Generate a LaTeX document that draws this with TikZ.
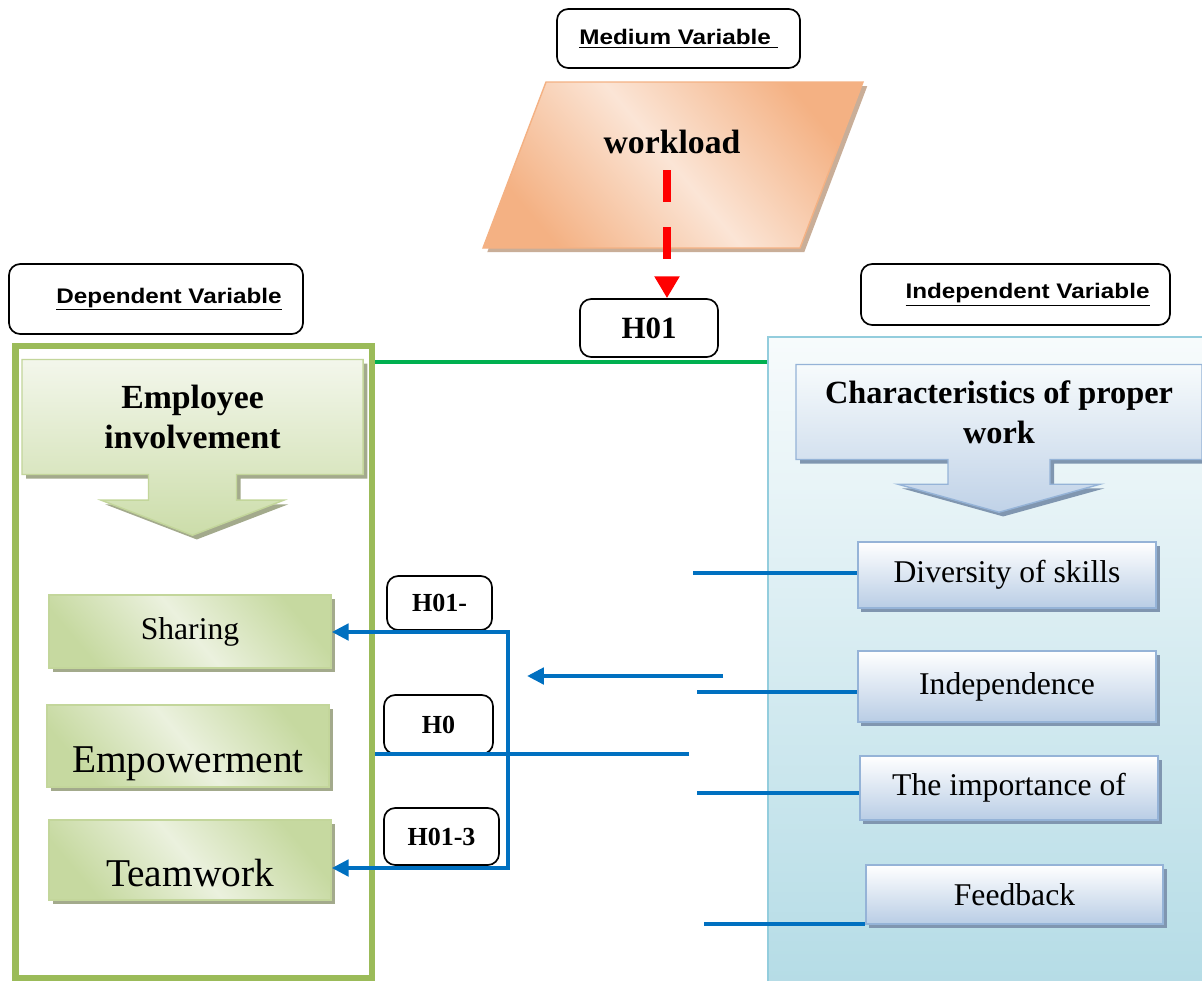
\documentclass[tikz,border=0pt]{standalone}
\usepackage{fontspec}
\setmainfont{Liberation Serif}
\newfontfamily\varfont[FakeStretch=1.15]{Liberation Sans}
\usetikzlibrary{arrows.meta,shapes.arrows,shadows}

\definecolor{peachdark}{HTML}{F4B183}
\definecolor{peachlight}{HTML}{FBE5D6}
\definecolor{peachshadow}{HTML}{C9AE98}
\definecolor{panelgreen}{HTML}{9BBB59}
\definecolor{linegreen}{HTML}{00B050}
\definecolor{greenA}{HTML}{C6D9A0}
\definecolor{greenB}{HTML}{EBF1DE}
\definecolor{greenborder}{HTML}{C3D69B}
\definecolor{greenshadow}{HTML}{A3AA8C}
\definecolor{lineblue}{HTML}{0070C0}
\definecolor{panelborder}{HTML}{93CDDD}
\definecolor{paneltop}{HTML}{F7FBFC}
\definecolor{panelbottom}{HTML}{B5DCE6}
\definecolor{boxborder}{HTML}{95B3D7}
\definecolor{boxbottom}{HTML}{B9CDE5}
\definecolor{boxshadow}{HTML}{8096B0}
\definecolor{redarrow}{HTML}{FF0000}

\tikzset{
  varbox/.style={draw=black, line width=1.2pt, rounded corners=8pt, fill=white,
    font=\varfont\bfseries\fontsize{15}{17}\selectfont},
  hbox/.style={draw=black, line width=1.2pt, rounded corners=8pt, fill=white,
    font=\bfseries\fontsize{18.5}{20}\selectfont},
  greenbox/.style={draw=greenborder, line width=1pt, top color=greenA, bottom color=greenA,
    middle color=greenB, shading angle=-50,
    drop shadow={shadow xshift=3pt, shadow yshift=-3pt, fill=greenshadow, opacity=1},
    font=\fontsize{22.5}{26}\selectfont},
  bluebox/.style={draw=boxborder, line width=1.2pt, top color=white, bottom color=boxbottom,
    drop shadow={shadow xshift=2.5pt, shadow yshift=-2.5pt, fill=boxshadow, opacity=1},
    font=\fontsize{22.5}{26}\selectfont},
  greenhead/.style={arrow box, draw=greenborder, line width=1pt, top color=greenB!60!white,
    bottom color=greenA!90!white, align=center,
    drop shadow={shadow xshift=3pt, shadow yshift=-3pt, fill=greenshadow, opacity=1},
    font=\bfseries\fontsize{24}{28.5}\selectfont},
  bluehead/.style={arrow box, draw=boxborder, line width=1pt, top color=paneltop,
    bottom color=boxbottom!90!white, align=center,
    drop shadow={shadow xshift=3pt, shadow yshift=-3pt, fill=boxshadow, opacity=1},
    font=\bfseries\fontsize{23}{28.5}\selectfont},
  lowtext/.style={text height=37pt, text depth=0pt},
  blueline/.style={draw=lineblue, line width=3pt},
  bluetip/.tip={Triangle[length=12pt, width=11.5pt]},
}

\begin{document}
\begin{tikzpicture}[x=0.025cm, y=-0.025cm]
\useasboundingbox[fill=white] (0,0) rectangle (1202,980);

% the two variable panels
\node[draw=panelborder, line width=1.5pt, top color=paneltop, bottom color=panelbottom,
  minimum width=11.05cm, minimum height=16.2cm, inner sep=0pt] (indpanel) at (989,661) {};
\node[draw=panelgreen, line width=4.3pt, minimum width=8.91cm, minimum height=15.8cm,
  inner sep=0pt] (deppanel) at (193.75,662) {};

% titles
\node[varbox, minimum width=6.075cm, minimum height=1.475cm] (medvar) at (678.5,38.5)
	{\underline{Medium Variable\ }};
\node[varbox, minimum width=7.35cm, minimum height=1.75cm] (depvar) at (156,299)
	{\hspace*{0.65cm}\underline{Dependent Variable}};
\node[varbox, minimum width=7.725cm, minimum height=1.525cm] (indvar) at (1015.5,294.5)
	{\hspace*{0.6cm}\underline{Independent Variable}};

% workload
\path[draw=peachdark, line width=1pt, top color=peachdark, bottom color=peachdark,
  middle color=peachlight, shading angle=-50,
  drop shadow={shadow xshift=3pt, shadow yshift=-3pt, fill=peachshadow, opacity=1}]
  (546,82) -- (863,82) -- (800,248) -- (483,248) -- cycle;
\node[font=\bfseries\fontsize{24}{28}\selectfont] (workload) at (672,142) {workload};
\coordinate (dashtop) at (667,170);

\node[hbox, font=\bfseries\fontsize{22}{24}\selectfont, minimum width=3.45cm,
  minimum height=1.45cm] (h01) at (649,328) {H01};

\draw[draw=redarrow, line width=6pt, dash pattern=on 22.5pt off 18pt,
  -{Triangle[length=15.5pt, width=17pt]}] (dashtop) -- (dashtop |- h01.north);

\coordinate (gl) at (0,362);
\draw[draw=linegreen, line width=3.5pt] (deppanel.east |- gl) -- (indpanel.west |- gl);

% headers
\node[greenhead, minimum width=8.525cm, minimum height=2.875cm,
  arrow box tip angle=138, arrow box shaft width=2.2cm, arrow box head extend=1.19cm,
  arrow box head indent=0cm, arrow box arrows={south:1.5cm}] (empinv) at (192.5,417)
	{Employee\\involvement};
\node[bluehead, minimum width=10.15cm, minimum height=2.375cm,
  arrow box tip angle=149, arrow box shaft width=2.55cm, arrow box head extend=1.25cm,
  arrow box head indent=0cm, arrow box arrows={south:1.3cm}] (charwork) at (999,412)
	{Characteristics of proper\\work};

% dimensions of the dependent variable
\node[greenbox, minimum width=7.05cm, minimum height=1.825cm] (sharing) at (190,631.5)
	{Sharing};
\node[greenbox, lowtext, font=\fontsize{28}{30}\selectfont, minimum width=7.05cm,
  minimum height=2.05cm] (empower) at (188,746) {Empowerment};
\node[greenbox, lowtext, font=\fontsize{28}{30}\selectfont, minimum width=7.05cm,
  minimum height=2cm] (teamwork) at (190,860) {Teamwork};

% dimensions of the independent variable
\node[bluebox, minimum width=7.45cm, minimum height=1.65cm] (diversity) at (1007,575)
	{Diversity of skills};
\node[bluebox, minimum width=7.45cm, minimum height=1.775cm] (independence) at (1007,686.5)
	{Independence};
\node[bluebox, minimum width=7.45cm, minimum height=1.6cm] (importance) at (1009,788)
	{The importance of};
\node[bluebox, minimum width=7.425cm, minimum height=1.475cm] (feedback) at (1014.5,894.5)
	{Feedback};

% hypotheses
\node[hbox, minimum width=2.625cm, minimum height=1.35cm] (hsharing) at (439.5,603) {H01-};
\node[hbox, minimum width=2.725cm, minimum height=1.475cm] (hempower) at (438.5,724.5) {H0};
\node[hbox, minimum width=2.875cm, minimum height=1.425cm] (hteam) at (441.5,836.5) {H01-3};

\coordinate (jtop) at (508,632);
\coordinate (jbot) at (508,868);
\coordinate (empend) at (689,754);
\coordinate (arrstart) at (723,676);
\coordinate (arrtip) at (527,676);
\coordinate (divend) at (693,573);
\coordinate (indend) at (697,692);
\coordinate (impend) at (697,793);
\coordinate (fbend) at (704,924);

\draw[blueline, bluetip-bluetip] (jtop -| sharing.east) -- (jtop) -- (jbot)
  -- (jbot -| teamwork.east);
\draw[blueline] (empend) -- (empend -| deppanel.east);
\draw[blueline, -bluetip] (arrstart) -- (arrtip);
\draw[blueline] (divend) -- (divend -| diversity.west);
\draw[blueline] (indend) -- (indend -| independence.west);
\draw[blueline] (impend) -- (impend -| importance.west);
\draw[blueline] (fbend) -- (fbend -| feedback.west);
\end{tikzpicture}
\end{document}
